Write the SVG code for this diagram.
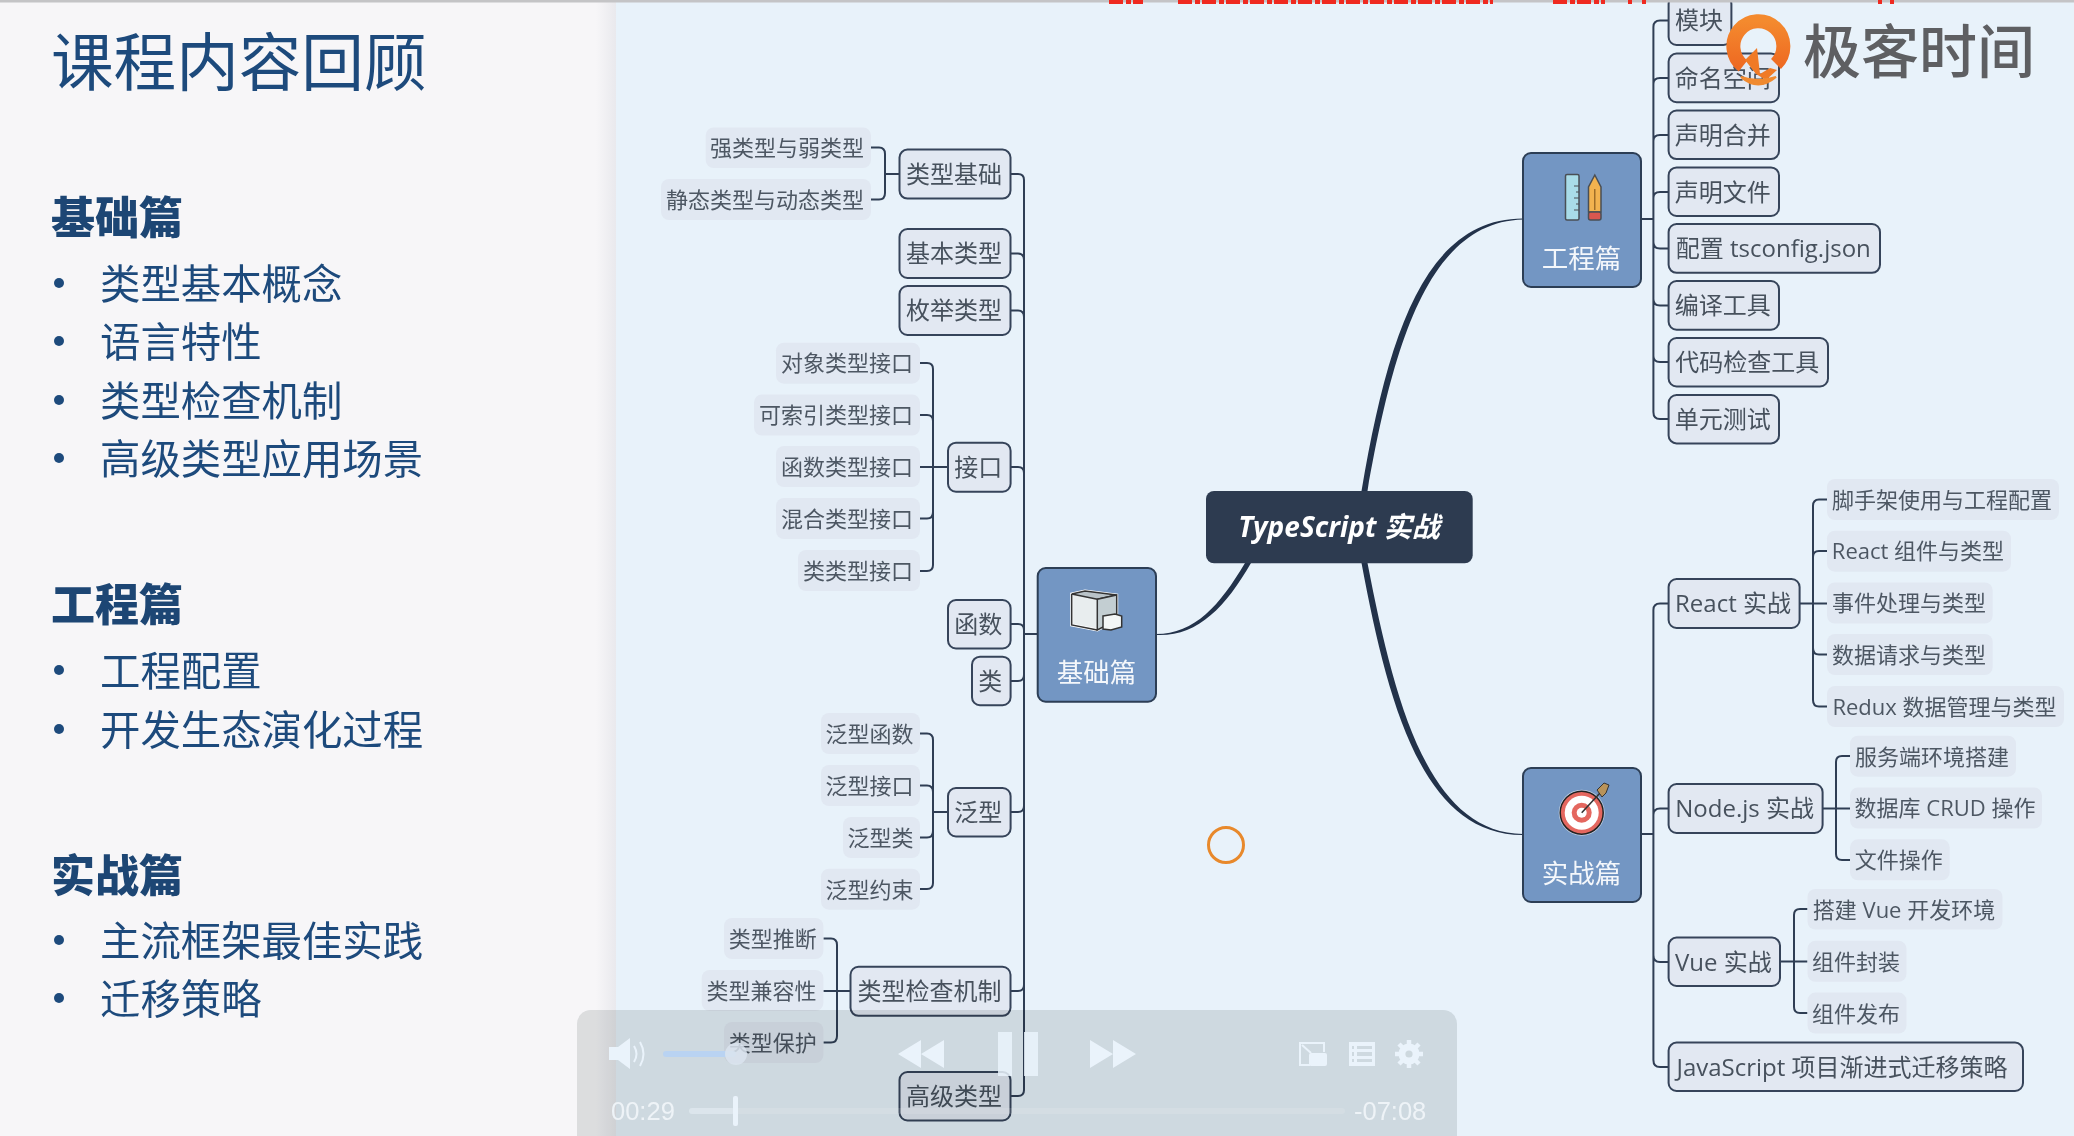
<svg xmlns="http://www.w3.org/2000/svg" width="2074" height="1136" viewBox="0 0 2074 1136">
<style>
text{font-family:"Open Sans","Noto Sans CJK SC",sans-serif}
.n rect{fill:#e2e8f2;stroke:#36445a;stroke-width:2}
.n text{font-size:24px;fill:#47515d;text-anchor:middle;transform:translate(-1px,0)}
.s rect{fill:#e1e8f2}
.s text{font-size:22px;fill:#4d5763;text-anchor:middle;transform:translate(-1px,0)}
.m>rect:first-child{fill:#7396c3;stroke:#2c3e55;stroke-width:2}
.m>text{font-size:26.5px;fill:#f4f7fb;text-anchor:middle}
.c{fill:none;stroke:#2f3e54;stroke-width:2}
.h{font-size:44px;font-weight:900;fill:#1d4674;font-family:"Noto Sans CJK SC",sans-serif}
.b{font-size:40.4px;fill:#1d4a7c;font-family:"Noto Sans CJK SC",sans-serif}
.d{fill:#1d4a7c}
.p{fill:#eaf3fb}
.t{font-size:25.5px;fill:#eef3f7;font-family:"Liberation Sans",sans-serif}
</style>
<defs>
<linearGradient id="sh" x1="0" x2="1" y1="0" y2="0"><stop offset="0" stop-color="#f7f6f8"/><stop offset="1" stop-color="#e9e9ed"/></linearGradient>
<linearGradient id="og" x1="0" x2="0" y1="0" y2="1"><stop offset="0" stop-color="#f48a2e"/><stop offset="1" stop-color="#ee6a22"/></linearGradient>
</defs>

<rect width="2074" height="1136" fill="#e8f2fa"/>
<rect width="616" height="1136" fill="#f7f6f8"/>
<rect x="596" width="20" height="1136" fill="url(#sh)"/>

<g id="slide-text">
<text x="51" y="85" style="font-size:62.6px;fill:#1d4a7c;font-family:'Noto Sans CJK SC',sans-serif">课程内容回顾</text>
<text class="h" x="51" y="234">基础篇</text>
<circle class="d" cx="59" cy="283" r="5"/><text class="b" x="100" y="298.5">类型基本概念</text>
<circle class="d" cx="59" cy="341" r="5"/><text class="b" x="100" y="356.5">语言特性</text>
<circle class="d" cx="59" cy="400" r="5"/><text class="b" x="100" y="415.5">类型检查机制</text>
<circle class="d" cx="59" cy="458" r="5"/><text class="b" x="100" y="473.5">高级类型应用场景</text>
<text class="h" x="51" y="621">工程篇</text>
<circle class="d" cx="59" cy="670" r="5"/><text class="b" x="100" y="685.5">工程配置</text>
<circle class="d" cx="59" cy="729" r="5"/><text class="b" x="100" y="744.5">开发生态演化过程</text>
<text class="h" x="51" y="892">实战篇</text>
<circle class="d" cx="59" cy="940" r="5"/><text class="b" x="100" y="955.5">主流框架最佳实践</text>
<circle class="d" cx="59" cy="998" r="5"/><text class="b" x="100" y="1013.5">迁移策略</text>
</g>

<g id="connectors">
<path d="M1245 563 C1220 605 1195 634 1156 634 L1156 635 C1197 637 1225 608 1251 563Z" fill="#22324a"/>
<path d="M1361.5 491 C1388 335 1425 218.5 1523 218.5 L1523 219.5 C1430 222 1394 340 1367.5 491Z" fill="#22324a"/>
<path d="M1367.5 563 C1394 700 1428 833 1523 834 L1523 835 C1423 835.5 1388 705 1361.5 563Z" fill="#22324a"/>
<g class="c">
<path d="M1010.6 174H1018Q1024 174 1024 180V1090Q1024 1096 1018 1096H1010.6"/>
<path d="M1010.6 253.5H1018Q1024 253.5 1024 260M1010.6 310.5H1018Q1024 310.5 1024 317M1010.6 467H1018Q1024 467 1024 473M1010.6 624H1018Q1024 624 1024 630M1010.6 681H1018Q1024 681 1024 675M1010.6 812H1018Q1024 812 1024 806M1010.6 991H1018Q1024 991 1024 985M1024 634H1037.7"/>
<path d="M871 147.5H879Q885 147.5 885 154V193Q885 199.5 879 199.5H871M885 174H899.5"/>
<path d="M920 363H927Q933 363 933 369V565Q933 571 927 571H920M920 415H927Q933 415 933 421M920 467H948M920 518.5H927Q933 518.5 933 512"/>
<path d="M920 733.5H927Q933 733.5 933 740V883Q933 889 927 889H920M920 785.5H927Q933 785.5 933 792M920 837.5H927Q933 837.5 933 831M933 812H948"/>
<path d="M823.4 938.5H831Q837 938.5 837 945V1036Q837 1042.5 831 1042.5H823.4M823.4 991H850.5"/>
<path d="M1668.6 20.5H1660Q1653.4 20.5 1653.4 27V412Q1653.4 419 1660 419H1668.6M1668.6 78H1660Q1653.4 78 1653.4 84M1668.6 135H1660Q1653.4 135 1653.4 141M1668.6 192H1660Q1653.4 192 1653.4 198M1668.6 248.5H1660Q1653.4 248.5 1653.4 242M1668.6 305.5H1660Q1653.4 305.5 1653.4 299M1668.6 362H1660Q1653.4 362 1653.4 356M1641 219H1653.4"/>
<path d="M1668.6 603.5H1660Q1653.4 603.5 1653.4 610V1060Q1653.4 1067 1660 1067H1668.6M1668.6 808.5H1660Q1653.4 808.5 1653.4 815M1668.6 962H1660Q1653.4 962 1653.4 955M1641 834H1653.4"/>
<path d="M1827 499.5H1819Q1813 499.5 1813 506V700Q1813 706.5 1819 706.5H1827M1827 551H1819Q1813 551 1813 557M1799.6 603.5H1827M1827 654.5H1819Q1813 654.5 1813 648"/>
<path d="M1850 756H1842Q1836 756 1836 762V854Q1836 860 1842 860H1850M1822.7 808.5H1850"/>
<path d="M1807.5 909H1800Q1794 909 1794 915V1007Q1794 1013 1800 1013H1807.5M1780 961.5H1807.5"/>
</g>
</g>

<g id="root"><rect x="1206" y="491" width="266.7" height="72.3" rx="8" fill="#2d3b50"/><text x="1339" y="537" text-anchor="middle" font-size="28" font-weight="700" font-style="italic" fill="#fff">TypeScript 实战</text></g>

<g id="jichu" class="m"><rect x="1037.7" y="568" width="118.3" height="133.7" rx="8"/>
<path d="M1071.7 594L1085 591 1116.7 595 1116.7 620 1097.3 630 1071.7 625Z" fill="#e8edee" stroke="#fff" stroke-width="3"/>
<path d="M1071.7 594L1085 591 1116.7 595 1097.3 599.3Z" fill="#b9c3c8" stroke="#333" stroke-width="1.5"/>
<path d="M1097.3 599.3L1116.7 595 1116.7 620 1097.3 630Z" fill="#c3ced2" stroke="#333" stroke-width="1.5"/>
<path d="M1071.7 594V625L1097.3 630" fill="none" stroke="#333" stroke-width="1.5"/>
<path d="M1103 616L1115 614 1121.7 616 1121.7 627 1111 630 1103 629Z" fill="#f3f6f6" stroke="#333" stroke-width="1.5"/>
<text x="1096.5" y="682">基础篇</text></g>

<g id="gongcheng" class="m"><rect x="1523" y="153" width="118" height="134" rx="8"/>
<rect x="1565.5" y="174.5" width="13.5" height="45.5" rx="1.5" fill="#a9dce8" stroke="#4a4f55" stroke-width="1.5"/>
<path d="M1579 186h-5M1579 192h-3M1579 198h-5M1579 204h-3M1579 210h-5" stroke="#4a4f55" stroke-width="1"/>
<path d="M1594.8 175L1601 187V212H1588.5V187Z" fill="#f2b24f" stroke="#4a4f55" stroke-width="1.5"/>
<rect x="1588.5" y="212" width="12.5" height="8" rx="2" fill="#d9574f" stroke="#4a4f55" stroke-width="1.5"/>
<path d="M1594.8 189V210" stroke="#8a5c20" stroke-width="1.2"/>
<text x="1581.5" y="267.5">工程篇</text></g>

<g id="shizhan" class="m"><rect x="1523" y="768" width="118" height="134" rx="8"/>
<circle cx="1581.7" cy="812.7" r="23" fill="#fff" opacity=".55"/>
<circle cx="1581.7" cy="812.7" r="21.5" fill="#e4675f" stroke="#222" stroke-width="1.5"/>
<circle cx="1581.7" cy="812.7" r="17" fill="#fff"/><circle cx="1581.7" cy="812.7" r="10" fill="#e4675f"/><circle cx="1581.7" cy="812.7" r="5" fill="#fff"/>
<path d="M1581.7 812.7L1600 793" stroke="#333" stroke-width="1.6"/>
<path d="M1597 790L1604 783 1609 785 1606 793 1602 797Z" fill="#b8935a" stroke="#333" stroke-width="1"/>
<text x="1581.5" y="882.5">实战篇</text></g>

<g id="n1" class="n"><rect x="899.5" y="149.6" width="111" height="49" rx="8"/><text x="955" y="183">类型基础</text></g>
<g id="n2" class="n"><rect x="899.5" y="229" width="111" height="49" rx="8"/><text x="955" y="262">基本类型</text></g>
<g id="n3" class="n"><rect x="899.5" y="286" width="111" height="49" rx="8"/><text x="955" y="319">枚举类型</text></g>
<g id="n4" class="n"><rect x="948" y="442.7" width="62.6" height="49" rx="8"/><text x="979.3" y="476">接口</text></g>
<g id="n5" class="n"><rect x="948" y="600" width="62.6" height="48.5" rx="8"/><text x="979.3" y="633">函数</text></g>
<g id="n6" class="n"><rect x="972" y="656.7" width="38.6" height="48.5" rx="8"/><text x="991.3" y="690">类</text></g>
<g id="n7" class="n"><rect x="948" y="788" width="62.6" height="48.5" rx="8"/><text x="979.3" y="821">泛型</text></g>
<g id="n8" class="n"><rect x="850.5" y="966.8" width="160" height="49" rx="8"/><text x="930.5" y="1000">类型检查机制</text></g>
<g id="n9" class="n"><rect x="899.5" y="1072" width="111" height="48.5" rx="8"/><text x="955" y="1105">高级类型</text></g>

<g id="s1" class="s"><rect x="705.7" y="127.5" width="165.3" height="40.5" rx="8"/><text x="788" y="155.5">强类型与弱类型</text></g>
<g id="s2" class="s"><rect x="661" y="179" width="210" height="41" rx="8"/><text x="766" y="207.5">静态类型与动态类型</text></g>
<g id="s3" class="s"><rect x="776" y="342.7" width="144" height="41" rx="8"/><text x="848" y="371">对象类型接口</text></g>
<g id="s4" class="s"><rect x="754" y="394.5" width="166" height="41" rx="8"/><text x="837" y="423">可索引类型接口</text></g>
<g id="s5" class="s"><rect x="776" y="446" width="144" height="41" rx="8"/><text x="848" y="474.5">函数类型接口</text></g>
<g id="s6" class="s"><rect x="776" y="498" width="144" height="41" rx="8"/><text x="848" y="526.5">混合类型接口</text></g>
<g id="s7" class="s"><rect x="798" y="550" width="122" height="41" rx="8"/><text x="859" y="578.5">类类型接口</text></g>
<g id="s8" class="s"><rect x="821" y="713" width="99" height="41" rx="8"/><text x="870.5" y="741.5">泛型函数</text></g>
<g id="s9" class="s"><rect x="821" y="765" width="99" height="41" rx="8"/><text x="870.5" y="793.5">泛型接口</text></g>
<g id="s10" class="s"><rect x="843" y="817" width="77" height="41" rx="8"/><text x="881.5" y="845.5">泛型类</text></g>
<g id="s11" class="s"><rect x="821" y="868.7" width="99" height="41" rx="8"/><text x="870.5" y="897.5">泛型约束</text></g>
<g id="s12" class="s"><rect x="724" y="918" width="99.4" height="41" rx="8"/><text x="773.7" y="946.5">类型推断</text></g>
<g id="s13" class="s"><rect x="701.7" y="970" width="121.7" height="41" rx="8"/><text x="762.5" y="998.5">类型兼容性</text></g>
<g id="s14" class="s"><rect x="724" y="1022" width="99.4" height="41" rx="8"/><text x="773.7" y="1050.5">类型保护</text></g>

<g id="e1" class="n"><rect x="1668.6" y="-4" width="62.8" height="49" rx="8"/><text x="1700" y="29">模块</text></g>
<g id="e2" class="n"><rect x="1668.6" y="53.6" width="110.4" height="48.6" rx="8"/><text x="1723.8" y="87">命名空间</text></g>
<g id="e3" class="n"><rect x="1668.6" y="110.5" width="110.4" height="48.6" rx="8"/><text x="1723.8" y="143.5">声明合并</text></g>
<g id="e4" class="n"><rect x="1668.6" y="167.4" width="110.4" height="48.6" rx="8"/><text x="1723.8" y="200.5">声明文件</text></g>
<g id="e5" class="n"><rect x="1668.6" y="224" width="211.4" height="48.8" rx="8"/><text x="1774.3" y="257">配置 tsconfig.json</text></g>
<g id="e6" class="n"><rect x="1668.6" y="281" width="110.4" height="48.7" rx="8"/><text x="1723.8" y="314">编译工具</text></g>
<g id="e7" class="n"><rect x="1668.6" y="338" width="159.4" height="48.5" rx="8"/><text x="1748.3" y="371">代码检查工具</text></g>
<g id="e8" class="n"><rect x="1668.6" y="395" width="110.4" height="48.4" rx="8"/><text x="1723.8" y="428">单元测试</text></g>

<g id="p1" class="n"><rect x="1668.6" y="579" width="131" height="49" rx="8"/><text x="1734" y="612">React 实战</text></g>
<g id="p2" class="n"><rect x="1668.6" y="784" width="154" height="49" rx="8"/><text x="1745.6" y="817">Node.js 实战</text></g>
<g id="p3" class="n"><rect x="1668.6" y="937.6" width="111.4" height="48.4" rx="8"/><text x="1724.3" y="970.5">Vue 实战</text></g>
<g id="p4" class="n"><rect x="1668.6" y="1042.6" width="354.4" height="48.4" rx="8"/><text x="1843" y="1075.5">JavaScript 项目渐进式迁移策略</text></g>

<g id="r1" class="s"><rect x="1827" y="479" width="232" height="41" rx="8"/><text x="1943" y="507.5">脚手架使用与工程配置</text></g>
<g id="r2" class="s"><rect x="1827" y="530.7" width="184" height="41" rx="8"/><text x="1919" y="559">React 组件与类型</text></g>
<g id="r3" class="s"><rect x="1827" y="582.5" width="165.7" height="41" rx="8"/><text x="1910" y="611">事件处理与类型</text></g>
<g id="r4" class="s"><rect x="1827" y="634" width="165.7" height="41" rx="8"/><text x="1910" y="662.5">数据请求与类型</text></g>
<g id="r5" class="s"><rect x="1827" y="686" width="237" height="41" rx="8"/><text x="1945.5" y="714.5">Redux 数据管理与类型</text></g>
<g id="r6" class="s"><rect x="1850" y="735.7" width="166" height="41" rx="8"/><text x="1933" y="764.5">服务端环境搭建</text></g>
<g id="r7" class="s"><rect x="1850" y="787.5" width="192" height="41" rx="8"/><text x="1946" y="816">数据库 CRUD 操作</text></g>
<g id="r8" class="s"><rect x="1850" y="839.3" width="99.7" height="41" rx="8"/><text x="1899.8" y="867.5">文件操作</text></g>
<g id="r9" class="s"><rect x="1807.5" y="889" width="195" height="40.5" rx="8"/><text x="1905" y="917.5">搭建 Vue 开发环境</text></g>
<g id="r10" class="s"><rect x="1807.5" y="940.8" width="99" height="41" rx="8"/><text x="1857" y="969.5">组件封装</text></g>
<g id="r11" class="s"><rect x="1807.5" y="992.6" width="99" height="41" rx="8"/><text x="1857" y="1021.5">组件发布</text></g>

<circle id="cursor" cx="1226" cy="845" r="17.5" fill="none" stroke="#e8892b" stroke-width="3"/>

<rect width="2074" height="2.5" fill="#c4c4c6"/>
<path d="M1109 2H1143M1178 2H1493M1553 2H1605M1628 2H1632M1642 2H1646M1878 2H1882M1890 2H1894" stroke="#ef2a20" stroke-width="4" stroke-dasharray="14 3 5 2"/>

<g id="logo">
<path d="M1776 64A25 25 0 1 0 1743 66" fill="none" stroke="url(#og)" stroke-width="14"/>
<path d="M1757 48L1745 60 1756 74 1766 80 1777 70 1770 68 1760 74Z" fill="#f07a26"/>
<path d="M1741 77Q1758 92 1776 77Q1758 83 1741 77Z" fill="#f08a30" stroke="#f08a30" stroke-width="2"/>
<text x="1803" y="73" font-size="58" font-weight="500" fill="#5e5f62" style="font-family:'Noto Sans CJK SC',sans-serif">极客时间</text>
</g>

<g id="player">
<rect x="577" y="1010" width="880" height="140" rx="14" fill="#e3e5e5" style="mix-blend-mode:multiply"/>
<path class="p" d="M609 1047H618L630 1038V1069L618 1060H609Z"/>
<path d="M634 1046Q639 1054 634 1062M640 1042Q647 1054 640 1066" fill="none" stroke="#eaf3fb" stroke-width="2"/>
<rect x="663" y="1051" width="73" height="6" rx="3" fill="#b9d3f2"/>
<circle cx="736" cy="1054" r="11" fill="#dbe4ee" fill-opacity=".85"/>
<path class="p" d="M921 1040V1068L898 1054ZM944 1040V1068L921 1054Z"/>
<rect class="p" x="998" y="1032" width="14" height="44" fill-opacity=".85"/><rect class="p" x="1024" y="1032" width="14" height="44" fill-opacity=".85"/>
<path class="p" d="M1090 1040V1068L1113 1054ZM1113 1040V1068L1136 1054Z"/>
<path d="M1310 1065H1300V1043H1324V1052" fill="none" stroke="#eaf3fb" stroke-width="2"/>
<path d="M1302 1045L1311 1053" stroke="#eaf3fb" stroke-width="2"/>
<rect class="p" x="1309" y="1053" width="18" height="13" rx="2"/>
<path class="p" fill-rule="evenodd" d="M1349 1042H1375V1066H1349ZM1352 1046V1049H1354V1046ZM1357 1046V1049H1372V1046ZM1352 1052V1056H1354V1052ZM1357 1052V1056H1372V1052ZM1352 1059V1062H1354V1059ZM1357 1059V1062H1372V1059Z"/>
<circle cx="1409" cy="1054" r="7" fill="none" stroke="#eaf3fb" stroke-width="7"/>
<path d="M1409 1040V1068M1395 1054H1423M1399 1044L1419 1064M1419 1044L1399 1064" stroke="#eaf3fb" stroke-width="4.5"/>
<circle cx="1409" cy="1054" r="3.6" fill="#cdd8de"/>
<text class="t" x="611" y="1120">00:29</text>
<rect x="689" y="1108" width="656" height="6" rx="3" fill="#fff" fill-opacity=".12"/>
<rect x="689" y="1108" width="46" height="6" rx="3" fill="#eaf3fb" fill-opacity=".35"/>
<rect class="p" x="733" y="1096" width="5" height="30" rx="2"/>
<text class="t" x="1354" y="1120">-07:08</text>
</g>
</svg>
